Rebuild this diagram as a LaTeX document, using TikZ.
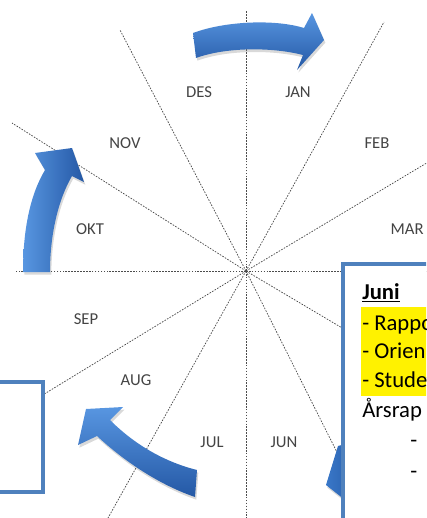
\documentclass[tikz,border=0pt]{standalone}
\usepackage{fontspec}
\setmainfont{Carlito}
\usetikzlibrary{shadows}
\definecolor{boxblue}{RGB}{79,129,189}
\definecolor{arrowlight}{RGB}{88,150,225}
\definecolor{arrowmid}{RGB}{58,120,200}
\definecolor{arrowdark}{RGB}{36,88,165}
\definecolor{monthgray}{RGB}{68,68,68}
\begin{document}
\begin{tikzpicture}[x=0.75pt,y=-0.75pt,
  radial/.style={draw=gray!60!black, line width=0.55pt, dash pattern=on 1.2pt off 1pt},
  month/.style={font=\fontsize{12.5}{14}\selectfont, text=monthgray, inner sep=1pt},
  blockarrow/.style={draw=none, drop shadow={shadow xshift=1pt,shadow yshift=-2pt,opacity=0.3}},
  infobox/.style={draw=boxblue, line width=3pt, fill=white, inner sep=0pt},
  boxtext/.style={anchor=base west, inner sep=0pt, font=\fontsize{17}{20}\selectfont}]
\useasboundingbox (0,0) rectangle (426,518);
\clip (0,0) rectangle (426,518);
\coordinate (c) at (246,271);
% radial dashed lines
\foreach \px/\py in {246/10,246/518,15/271,430/271,120/30,384/22,12/123,430/161,0/421,108/518,370/518,430/380}
  \draw[radial] (c) -- (\px,\py);
% month labels
\node[month] (des) at (199,92) {DES};
\node[month] (jan) at (298,92) {JAN};
\node[month] (nov) at (125,143) {NOV};
\node[month] (feb) at (377,143) {FEB};
\node[month] (okt) at (90,229) {OKT};
\node[month, anchor=west] (mar) at (389,229) {MAR};
\node[month] (sep) at (86,319) {SEP};
\node[month] (aug) at (136,380) {AUG};
\node[month] (jul) at (212,442) {JUL};
\node[month] (jun) at (284,442) {JUN};
% block arrows
\path[blockarrow, top color=arrowlight, bottom color=arrowdark]
  (193,33) .. controls (225,21) and (275,19) .. (304,28) -- (312,13) -- (324,40)
  -- (297,70) -- (303,55) .. controls (272,47) and (226,47) .. (196,58) -- cycle;
\path[blockarrow, left color=arrowlight, right color=arrowdark]
  (23,272) .. controls (23,230) and (30,195) .. (45,170) -- (35,153) -- (72,148)
  -- (84,182) -- (72,176) .. controls (58,200) and (50,235) .. (50,272) -- cycle;
\path[blockarrow, top color=arrowlight, bottom color=arrowdark]
  (197,470) .. controls (165,462) and (135,445) .. (110,420) -- (123,407) -- (86,409)
  -- (78,445) -- (97,436) .. controls (125,462) and (160,485) .. (195,497) -- cycle;
\path[blockarrow, left color=arrowmid, right color=arrowdark]
  (338,446) -- (326,485) -- (345,500) -- (360,500) -- (360,440) -- cycle;
% boxes
\node[infobox, anchor=north east, minimum width=44pt, minimum height=82.5pt] (leftbox) at (45,380) {};
\node[infobox, anchor=north west, minimum width=80pt, minimum height=210pt] (junibox) at (341,262) {};
\fill[yellow] (361,307) rectangle (430,396);
\node[boxtext, font=\fontsize{17}{20}\selectfont\bfseries] (juni) at (362,299) {\underline{Juni}};
\node[boxtext] (l1) at (362,330) {- Rappo};
\node[boxtext] (l2) at (362,358) {- Orien};
\node[boxtext] (l3) at (362,387) {- Stude};
\node[boxtext] (l4) at (362,417) {Årsrap};
\node[boxtext] (d1) at (410,447) {-};
\node[boxtext] (d2) at (410,478) {-};
\end{tikzpicture}
\end{document}
